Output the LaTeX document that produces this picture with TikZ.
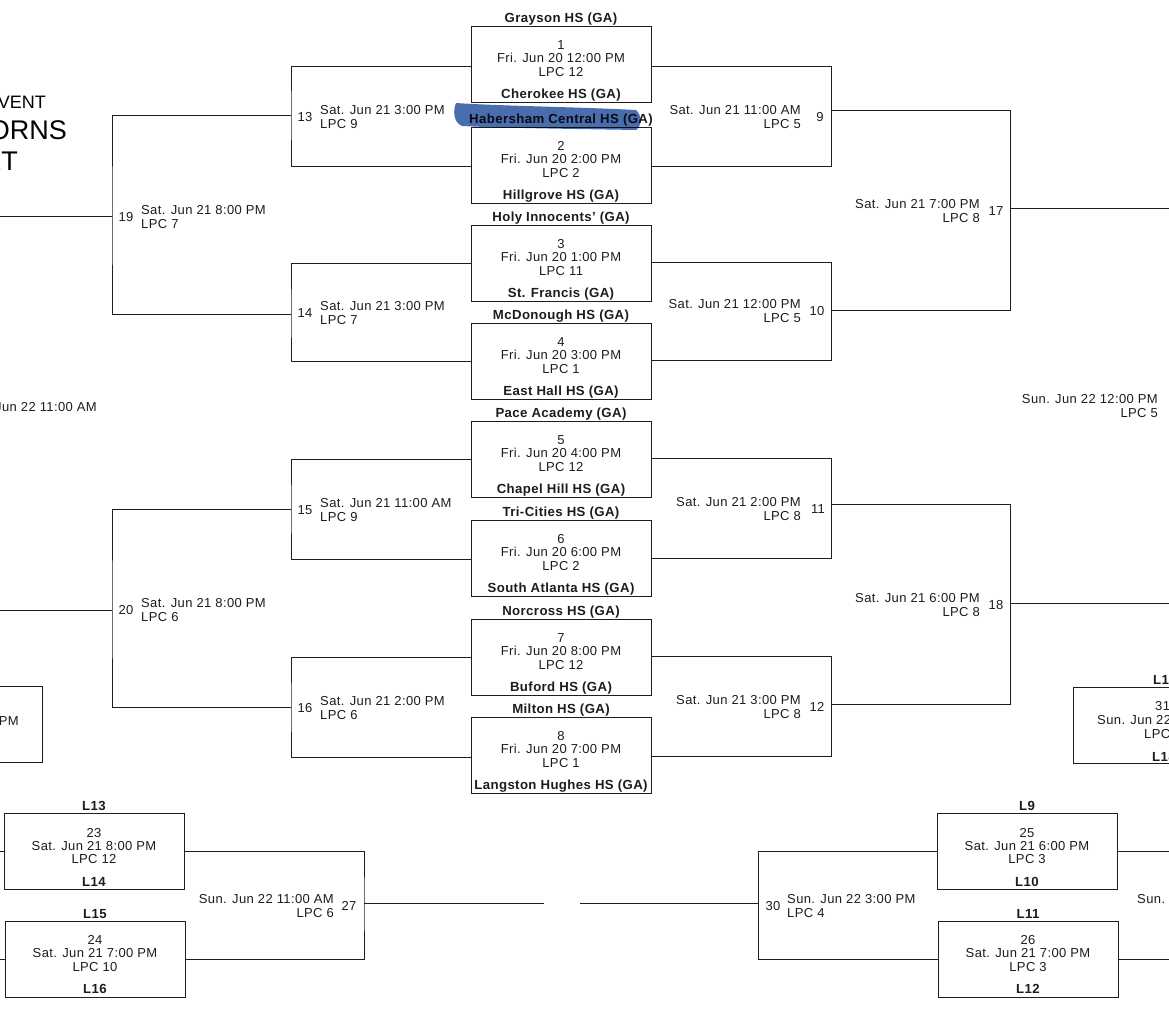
\documentclass[tikz,border=0pt]{standalone}
\usepackage{fontspec}
\setmainfont[LetterSpace=3]{Liberation Sans}
\newfontfamily\titlefont{Liberation Sans}
\usetikzlibrary{positioning}
\definecolor{wirecol}{HTML}{1E1E1E}
\definecolor{inkcol}{HTML}{1C1C1C}
\definecolor{markcol}{HTML}{4A6DAE}

\begin{document}
\begin{tikzpicture}
  [x=1pt,y=-1pt,
   every node/.style={text=inkcol,font=\fontsize{13}{13.3}\selectfont},
   wire/.style={draw=wirecol,line width=1pt},
   gamebox/.style={draw=wirecol,line width=1pt,minimum width=180pt,minimum height=76pt,inner sep=0pt,outer sep=0pt},
   gameinfo/.style={align=center,inner sep=0pt,yshift=5.5pt},
   teamname/.style={font=\fontsize{13.2}{13.2}\selectfont\bfseries,inner sep=0pt,text height=9.5pt,text depth=2.8pt},
   roundno/.style={inner sep=0pt,yshift=-1pt},
   leftinfo/.style={align=left,anchor=west,inner sep=0pt,yshift=-1pt},
   rightinfo/.style={align=right,anchor=east,inner sep=0pt,yshift=-1pt}]

  \useasboundingbox (0,0) rectangle (1169,1015);
  \clip (0,0) rectangle (1169,1015);

  % title
  \node[anchor=east,inner sep=0pt,text=black,font=\titlefont\fontsize{18}{18}\selectfont]  (title1) at (46,102) {VENT};
  \node[anchor=east,inner sep=0pt,text=black,font=\titlefont\fontsize{27}{27}\selectfont]  (title2) at (67,130) {ORNS};
  \node[anchor=east,inner sep=0pt,text=black,font=\titlefont\fontsize{27}{27}\selectfont]  (title3) at (18,161) {ET};

  % first round games
  \foreach \n/\y/\date/\lpc/\teama/\teamb in {
    1/64/Fri. Jun 20 12:00 PM/LPC 12/Grayson HS (GA)/Cherokee HS (GA),
    2/165/Fri. Jun 20 2:00 PM/LPC 2/Habersham Central HS (GA)/Hillgrove HS (GA),
    3/263/Fri. Jun 20 1:00 PM/LPC 11/Holy Innocents' (GA)/St. Francis (GA),
    4/361/Fri. Jun 20 3:00 PM/LPC 1/McDonough HS (GA)/East Hall HS (GA),
    5/459/Fri. Jun 20 4:00 PM/LPC 12/Pace Academy (GA)/Chapel Hill HS (GA),
    6/558/Fri. Jun 20 6:00 PM/LPC 2/Tri-Cities HS (GA)/South Atlanta HS (GA),
    7/657/Fri. Jun 20 8:00 PM/LPC 12/Norcross HS (GA)/Buford HS (GA),
    8/755/Fri. Jun 20 7:00 PM/LPC 1/Milton HS (GA)/Langston Hughes HS (GA)}
  {
    \node[gamebox] (game\n) at (561,\y) {};
    \node[gameinfo] (info\n) at (game\n) {\n\\\date\\\lpc};
    \node[teamname,above=1pt of game\n.north] (teama\n) {\teama};
    \node[teamname,above=0.5pt of game\n.south] (teamb\n) {\teamb};
  }

  % consolation games
  \foreach \n/\x/\y/\date/\lpc/\teama/\teamb in {
    23/94/851.5/Sat. Jun 21 8:00 PM/LPC 12/L13/L14,
    24/95/959/Sat. Jun 21 7:00 PM/LPC 10/L15/L16,
    25/1027/851.5/Sat. Jun 21 6:00 PM/LPC 3/L9/L10,
    26/1028/959/Sat. Jun 21 7:00 PM/LPC 3/L11/L12}
  {
    \node[gamebox] (game\n) at (\x,\y) {};
    \node[gameinfo] (info\n) at (game\n) {\n\\\date\\\lpc};
    \node[teamname,above=0pt of game\n.north] (teama\n) {\teama};
    \node[teamname,above=0.5pt of game\n.south] (teamb\n) {\teamb};
  }

  % marker stroke
  \begin{scope}[blend mode=multiply]
    \fill[markcol] (456,103) .. controls (500,106) and (580,107) .. (636,110)
      .. controls (642,115) and (642,126) .. (636,130)
      .. controls (580,129) and (500,128) .. (462,126)
      .. controls (453,122) and (453,110) .. (456,103);
  \end{scope}

  % boxes cut by the page edge
  \node[gamebox] (game22) at (-48,724) {};
  \node[rightinfo] (info22) at (19,720) {PM};
  \node[gamebox] (game31) at (1163,725) {};
  \node[leftinfo] (no31)   at (1155,705) {31};
  \node[leftinfo] (date31) at (1097,719) {Sun. Jun 22};
  \node[leftinfo] (lpc31)  at (1144,733) {LPC};
  \node[leftinfo,teamname] (teama31) at (1153,680) {L17};
  \node[leftinfo,teamname] (teamb31) at (1152,757) {L18};

  % round points
  \foreach \r/\x/\y in {13/291/115,14/291/314,15/291/509,16/291/707,
                        9/831/110,10/831/310,11/831/504,12/831/704,
                        19/112/216,20/112/610,17/1010/208,18/1010/603,
                        27/364/903,30/758/903}
    \coordinate (round\r) at (\x,\y);

  % left hand labels
  \foreach \r/\xn/\xt/\y/\date/\lpc in {
    13/305/320/116/Sat. Jun 21 3:00 PM/LPC 9,
    14/305/320/312/Sat. Jun 21 3:00 PM/LPC 7,
    15/305/320/509/Sat. Jun 21 11:00 AM/LPC 9,
    16/305/320/707/Sat. Jun 21 2:00 PM/LPC 6,
    19/126/141/216/Sat. Jun 21 8:00 PM/LPC 7,
    20/126/141/609/Sat. Jun 21 8:00 PM/LPC 6,
    30/773/787/905/Sun. Jun 22 3:00 PM/LPC 4}
  {
    \node[roundno] (no\r) at (\xn,\y) {\r};
    \node[leftinfo] (date\r) at (\xt,\y) {\date\\\lpc};
  }

  % right hand labels
  \foreach \r/\xn/\xt/\y/\date/\lpc in {
    9/820/801/116/Sat. Jun 21 11:00 AM/LPC 5,
    10/817/801/310/Sat. Jun 21 12:00 PM/LPC 5,
    11/818/801/508/Sat. Jun 21 2:00 PM/LPC 8,
    12/817/801/706/Sat. Jun 21 3:00 PM/LPC 8,
    17/996/980/210/Sat. Jun 21 7:00 PM/LPC 8,
    18/996/980/604/Sat. Jun 21 6:00 PM/LPC 8,
    27/349/334/905/Sun. Jun 22 11:00 AM/LPC 6}
  {
    \node[roundno] (no\r) at (\xn,\y) {\r};
    \node[rightinfo] (date\r) at (\xt,\y) {\date\\\lpc};
  }

  % labels of the cut off rounds
  \node[rightinfo] (date21) at (97,406) {Sun. Jun 22 11:00 AM};
  \node[rightinfo] (date29) at (1158,405) {Sun. Jun 22 12:00 PM\\LPC 5};
  \node[leftinfo]  (date28) at (1137,898) {Sun.};

  % brackets on the left of the first round
  \foreach \a/\da/\b/\db/\r in {1/-2/2/-1/13,3/0/4/0/14,5/0/6/-1/15,7/0/8/-2/16}
    \draw[wire] ([yshift=\da pt]game\a.west) -| (round\r) |- ([yshift=\db pt]game\b.west);
  % brackets on the right of the first round
  \foreach \a/\da/\b/\db/\r in {1/-2/2/-1/9,3/1/4/1/10,5/1/6/0/11,7/1/8/-1/12}
    \draw[wire] ([yshift=\da pt]game\a.east) -| (round\r) |- ([yshift=\db pt]game\b.east);

  % second level brackets
  \foreach \a/\b/\r in {13/14/19,15/16/20,9/10/17,11/12/18}
    \draw[wire] (round\a) -| (round\r) |- (round\b);

  % consolation brackets
  \draw[wire] (game23.east) -| (round27) |- (game24.east);
  \draw[wire] (game25.west) -| (round30) |- (game26.west);

  % free ends
  \coordinate (exit19) at (0,216);
  \coordinate (exit20) at (0,610);
  \coordinate (exit17) at (1169,208);
  \coordinate (exit18) at (1169,603);
  \coordinate (exit27) at (544,903);
  \coordinate (exit30) at (580,903);
  \coordinate (exit23) at (0,851.5);
  \coordinate (exit24) at (0,959);
  \coordinate (exit25) at (1169,851.5);
  \coordinate (exit26) at (1169,959);
  \foreach \r in {19,20,17,18,27,30}
    \draw[wire] (round\r) -- (exit\r);
  \draw[wire] (game23.west) -- (exit23);
  \draw[wire] (game24.west) -- (exit24);
  \draw[wire] (game25.east) -- (exit25);
  \draw[wire] (game26.east) -- (exit26);
\end{tikzpicture}
\end{document}
